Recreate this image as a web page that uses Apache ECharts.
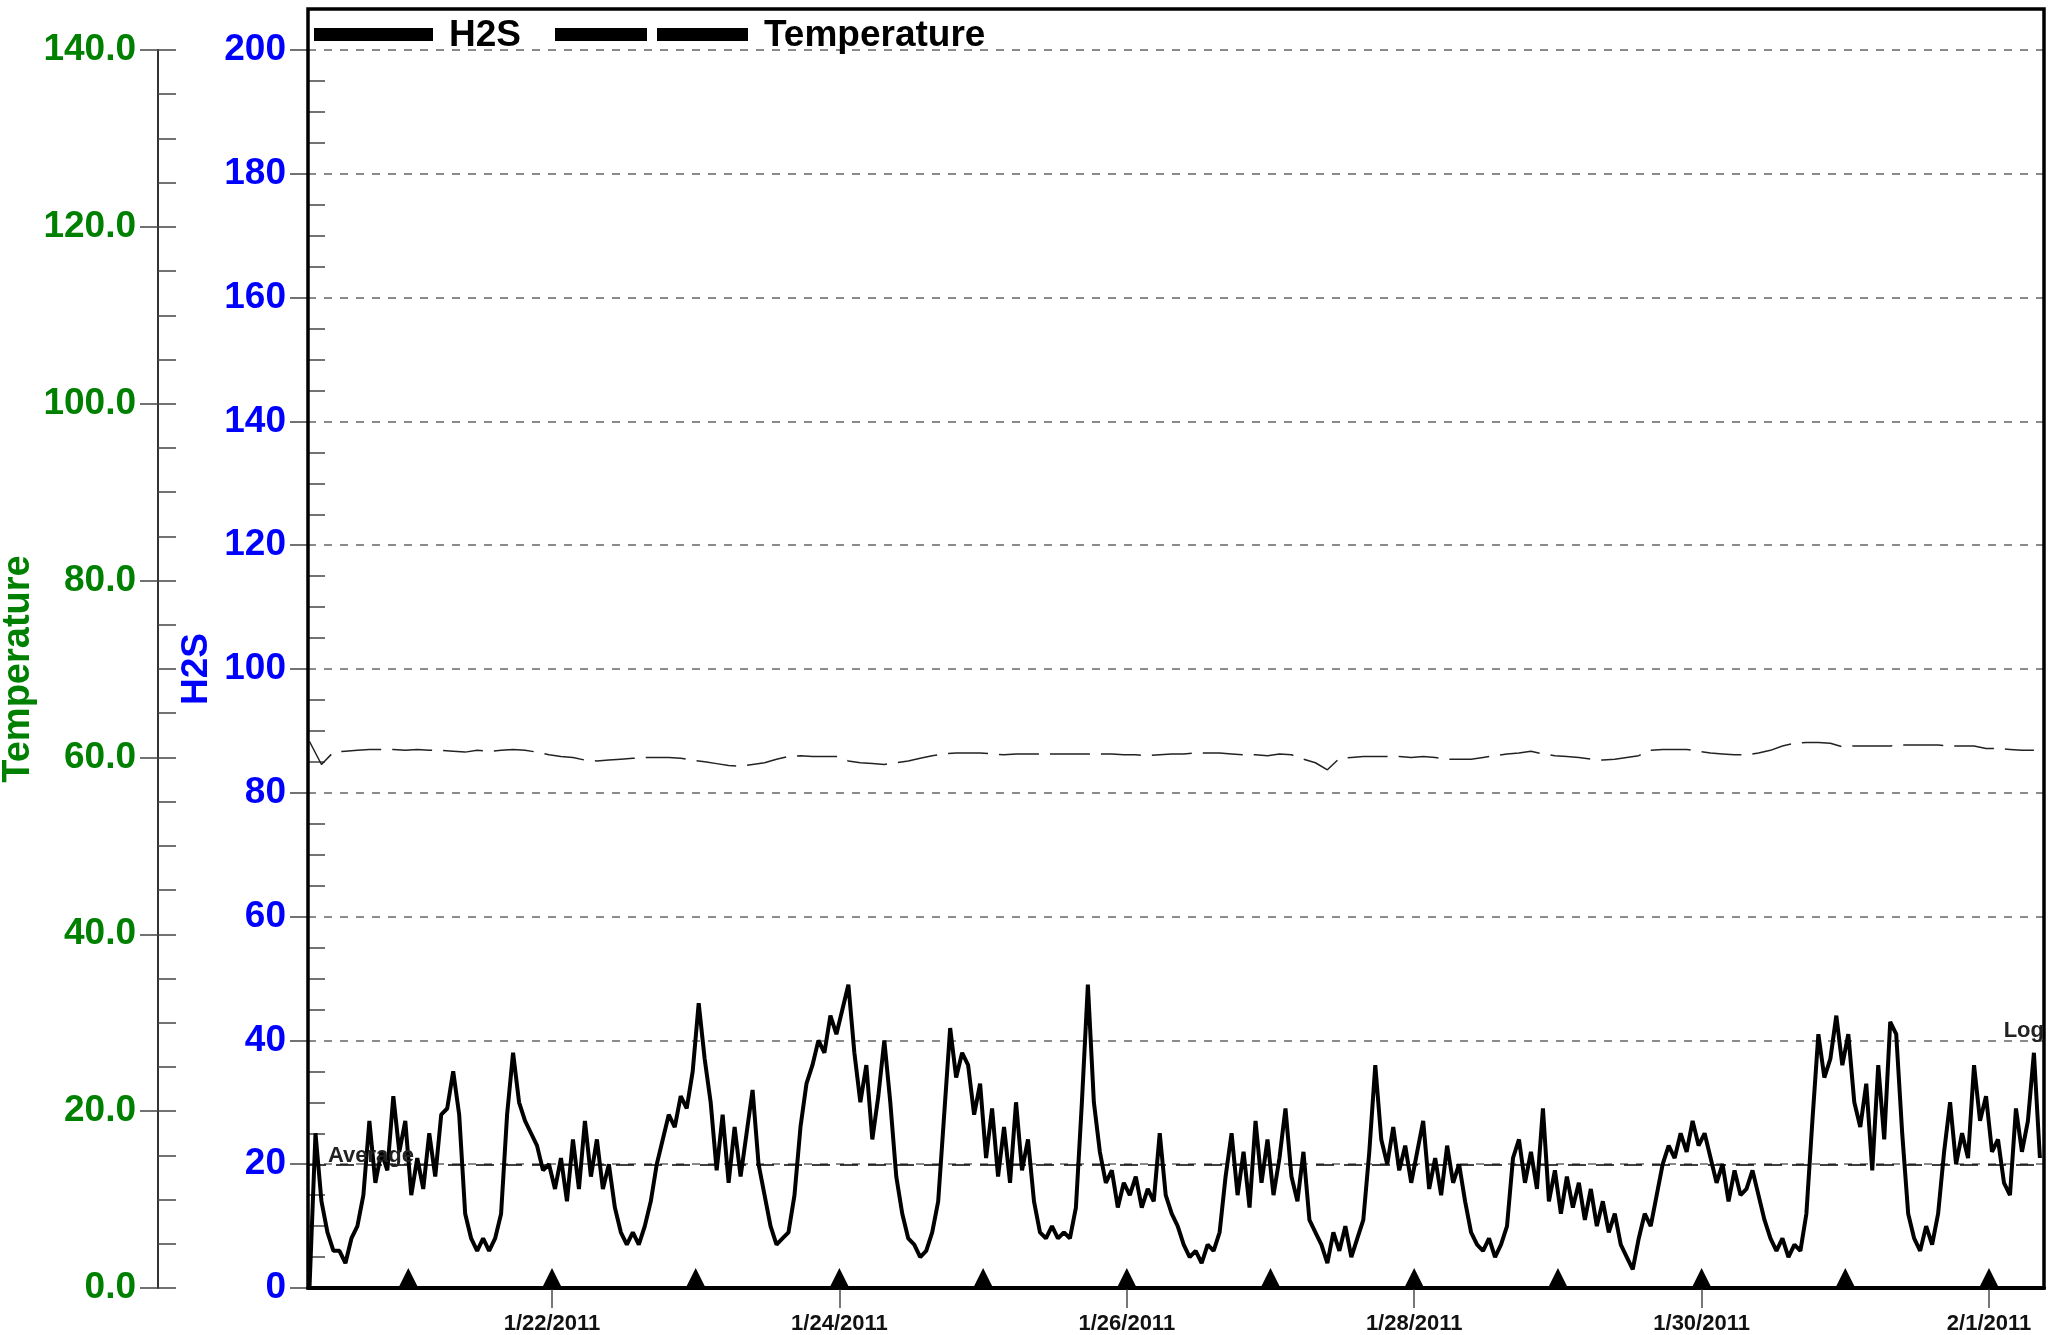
<!DOCTYPE html>
<html><head><meta charset="utf-8">
<script src="https://cdn.jsdelivr.net/npm/echarts@6/dist/echarts.min.js"></script>
<style>html,body{margin:0;padding:0;background:#fff}#c{width:2065px;height:1335px}</style>
</head><body><div id="c"></div>
<script>
const HOUR = 3600000;
const FONT = "'Liberation Sans', Arial, sans-serif";

// H2S readings, hourly from 1/20/2011 07:30
const h2sStart = Date.UTC(2011, 0, 20, 7, 30);
const h2sStepHours = 1;
const h2sValues = [
  0,25,14,9,6,6,4,8,10,15,27,17,22,19,31,22,27,15,21,16,25,18,28,29,
  35,28,12,8,6,8,6,8,12,28,38,30,27,25,23,19,20,16,21,14,24,16,27,18,
  24,16,20,13,9,7,9,7,10,14,20,24,28,26,31,29,35,46,37,30,19,28,17,26,
  18,25,32,20,15,10,7,8,9,15,26,33,36,40,38,44,41,45,49,38,30,36,24,31,
  40,30,18,12,8,7,5,6,9,14,28,42,34,38,36,28,33,21,29,18,26,17,30,19,
  24,14,9,8,10,8,9,8,13,30,49,30,22,17,19,13,17,15,18,13,16,14,25,15,
  12,10,7,5,6,4,7,6,9,18,25,15,22,13,27,17,24,15,21,29,18,14,22,11,
  9,7,4,9,6,10,5,8,11,22,36,24,20,26,19,23,17,22,27,16,21,15,23,17,
  20,14,9,7,6,8,5,7,10,21,24,17,22,16,29,14,19,12,18,13,17,11,16,10,
  14,9,12,7,5,3,8,12,10,15,20,23,21,25,22,27,23,25,21,17,20,14,19,15,
  16,19,15,11,8,6,8,5,7,6,12,27,41,34,37,44,36,41,30,26,33,19,36,24,
  43,41,25,12,8,6,10,7,12,22,30,20,25,21,36,27,31,22,24,17,15,29,22,27,
  38,21
];

// Temperature readings, every 2 hours from 1/20/2011 07:30
const tempStart = Date.UTC(2011, 0, 20, 7, 30);
const tempStepHours = 2;
const tempValues = [
  61.8,59.2,60.6,60.7,60.8,60.9,60.9,60.9,60.8,60.9,60.8,60.8,
  60.7,60.6,60.8,60.7,60.8,60.9,60.8,60.6,60.3,60.1,60.0,59.7,
  59.6,59.7,59.8,59.9,60.0,60.0,60.0,59.9,59.7,59.5,59.3,59.1,
  59.0,59.2,59.4,59.8,60.1,60.2,60.1,60.1,60.1,59.6,59.4,59.3,
  59.2,59.4,59.6,59.9,60.2,60.4,60.5,60.5,60.5,60.4,60.3,60.4,
  60.4,60.4,60.4,60.4,60.4,60.4,60.4,60.4,60.3,60.3,60.2,60.3,
  60.4,60.4,60.5,60.5,60.5,60.4,60.3,60.3,60.2,60.4,60.3,59.8,
  59.4,58.6,59.9,60.0,60.1,60.1,60.1,60.1,60.0,60.1,60.0,59.8,
  59.8,59.8,60.0,60.2,60.4,60.5,60.7,60.4,60.2,60.1,60.0,59.8,
  59.7,59.8,60.0,60.2,60.8,60.9,60.9,60.9,60.7,60.5,60.4,60.3,
  60.3,60.5,60.8,61.3,61.6,61.7,61.7,61.6,61.2,61.3,61.3,61.3,
  61.3,61.4,61.4,61.4,61.4,61.3,61.3,61.3,61.0,61.0,60.9,60.8,
  60.8
];

const xMin = Date.UTC(2011, 0, 20, 7, 15);
const xMax = Date.UTC(2011, 1, 1, 9, 11);
const dateTicks = [Date.UTC(2011,0,22), Date.UTC(2011,0,24), Date.UTC(2011,0,26), Date.UTC(2011,0,28), Date.UTC(2011,0,30), Date.UTC(2011,1,1)];
const dateTickLabels = ['1/22/2011','1/24/2011','1/26/2011','1/28/2011','1/30/2011','2/1/2011'];
const markerDates = [
  Date.UTC(2011,0,21), Date.UTC(2011,0,22), Date.UTC(2011,0,23), Date.UTC(2011,0,24),
  Date.UTC(2011,0,25), Date.UTC(2011,0,26), Date.UTC(2011,0,27), Date.UTC(2011,0,28),
  Date.UTC(2011,0,29), Date.UTC(2011,0,30), Date.UTC(2011,0,31), Date.UTC(2011,1,1)
];
const averageH2S = 19.9;
const logLevel = 40;

const h2sData = h2sValues.map((v, i) => [h2sStart + i * h2sStepHours * HOUR, v]);
const tempData = tempValues.map((v, i) => [tempStart + i * tempStepHours * HOUR, v]);
const markerData = markerDates.map(t => [t, 0]);

const chart = echarts.init(document.getElementById('c'), null, {renderer: 'canvas'});
const tickStyle = {color: '#444', width: 1.5};

chart.setOption({
  animation: false,
  backgroundColor: '#fff',
  grid: {left: 308, right: 21, top: 50, bottom: 47, containLabel: false, outerBoundsMode: 'none'},
  xAxis: {
    type: 'value', min: xMin, max: xMax,
    axisLine: {show: true, lineStyle: {color: '#000', width: 4}},
    axisTick: {show: true, customValues: dateTicks, length: 20, lineStyle: {color: '#777', width: 2}},
    axisLabel: {
      customValues: dateTicks,
      formatter: v => { const i = dateTicks.indexOf(v); return i >= 0 ? dateTickLabels[i] : ''; },
      fontSize: 22, fontWeight: 'bold', color: '#111', margin: 25, fontFamily: FONT
    },
    splitLine: {show: false}
  },
  yAxis: [
    {
      type: 'value', min: 0, max: 200, interval: 20, position: 'left', offset: 0,
      name: 'H2S', nameLocation: 'middle', nameGap: 93, nameRotate: 90, nameMoveOverlap: false,
      nameTextStyle: {color: '#0000ff', fontSize: 37, fontWeight: 'bold', fontFamily: FONT},
      axisLine: {show: false},
      axisTick: {show: true, length: 18, lineStyle: tickStyle},
      axisLabel: {color: '#0000ff', fontSize: 37, fontWeight: 'bold', margin: 22, fontFamily: FONT},
      splitLine: {show: true, lineStyle: {color: '#666', type: [8, 8], width: 1.5}}
    },
    {
      type: 'value', min: 0, max: 140, interval: 20, position: 'left', offset: 150,
      name: 'Temperature', nameLocation: 'middle', nameGap: 120, nameRotate: 90, nameMoveOverlap: false,
      nameTextStyle: {color: '#008000', fontSize: 38, fontWeight: 'bold', fontFamily: FONT},
      axisLine: {show: true, lineStyle: {color: '#333', width: 2}},
      axisTick: {show: true, length: 18, lineStyle: tickStyle},
      axisLabel: {color: '#008000', fontSize: 37, fontWeight: 'bold', margin: 22, fontFamily: FONT,
                  formatter: v => v.toFixed(1)},
      splitLine: {show: false}
    },
    {
      type: 'value', min: 0, max: 200, interval: 20, position: 'left', offset: 0,
      axisLine: {show: false},
      axisTick: {show: false, inside: true},
      axisLabel: {show: false},
      splitLine: {show: false},
      minorTick: {show: true, splitNumber: 4, length: 17, lineStyle: tickStyle}
    },
    {
      type: 'value', min: 0, max: 140, interval: 20, position: 'left', offset: 150,
      axisLine: {show: false},
      axisTick: {show: true, inside: true, length: 18, lineStyle: tickStyle},
      axisLabel: {show: false},
      splitLine: {show: false},
      minorTick: {show: true, splitNumber: 4, length: 18, lineStyle: tickStyle}
    }
  ],
  series: [
    {
      name: 'Temperature', type: 'line', yAxisIndex: 1, data: tempData,
      symbol: 'none', lineStyle: {color: '#222', width: 1.5, type: [40, 11]}, z: 2, silent: true
    },
    {
      name: 'H2S', type: 'line', yAxisIndex: 0, data: h2sData,
      symbol: 'none', lineStyle: {color: '#000', width: 4}, z: 4, silent: true,
      markLine: {
        silent: true, symbol: ['none', 'none'],
        data: [
          {yAxis: averageH2S, name: 'Average',
           lineStyle: {color: '#000', type: [18, 10], width: 1.5},
           label: {show: true, formatter: 'Average', position: 'insideStartTop', distance: [20, -2],
                   color: '#222', fontSize: 22, fontWeight: 'bold', fontFamily: FONT}},
          {yAxis: logLevel, name: 'Log',
           lineStyle: {color: 'rgba(0,0,0,0)', width: 1},
           label: {show: true, formatter: 'Log', position: 'insideEndTop', distance: [0, -2],
                   color: '#222', fontSize: 22, fontWeight: 'bold', fontFamily: FONT}}
        ]
      }
    },
    {
      name: 'markers', type: 'scatter', yAxisIndex: 0, data: markerData,
      symbol: 'triangle', symbolSize: [20, 20], symbolOffset: [0, -10],
      itemStyle: {color: '#000', opacity: 1}, z: 6, silent: true, clip: false
    }
  ],
  graphic: [
    {type: 'rect', shape: {x: 308, y: 9, width: 1736, height: 1279},
     style: {fill: 'none', stroke: '#000', lineWidth: 3.5}, z: 100, silent: true},
    {type: 'rect', shape: {x: 314, y: 28, width: 119, height: 13}, style: {fill: '#000'}, z: 100},
    {type: 'text', x: 449, y: 36, style: {text: 'H2S', fill: '#000', font: 'bold 37px ' + FONT, verticalAlign: 'middle'}, z: 100},
    {type: 'rect', shape: {x: 555, y: 28, width: 92, height: 13}, style: {fill: '#000'}, z: 100},
    {type: 'rect', shape: {x: 657, y: 28, width: 91, height: 13}, style: {fill: '#000'}, z: 100},
    {type: 'text', x: 764, y: 36, style: {text: 'Temperature', fill: '#000', font: 'bold 37px ' + FONT, verticalAlign: 'middle'}, z: 100}
  ]
});
</script>
</body></html>
